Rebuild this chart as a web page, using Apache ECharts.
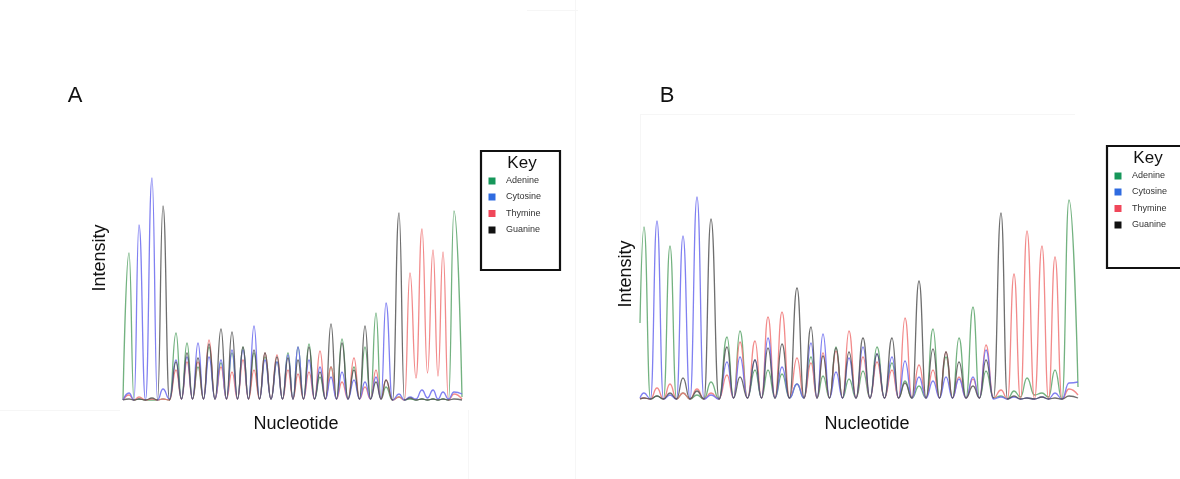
<!DOCTYPE html>
<html><head><meta charset="utf-8">
<script src="https://cdn.jsdelivr.net/npm/echarts@6/dist/echarts.min.js"></script>
<style>html,body{margin:0;padding:0;background:#fff}#c{width:1180px;height:479px}</style>
</head><body><div id="c"></div>
<script>
// ---------- labels ----------
const panelTitles = ['A', 'B'];
const xAxisLabel = 'Nucleotide';
const yAxisLabel = 'Intensity';
const keyTitle = 'Key';
const bases = ['Adenine', 'Cytosine', 'Thymine', 'Guanine'];

// ---------- panel A (scan position of each called peak, intensity) ----------
const posA = [6,16,29,40,53,64,75,86,98,109,120,131,142,154,165,175,186,197,208,219,231,242,253,263,276,287,299,310,320,331];
const adenineA  = [149,3,2,3,69,59,35,55,39,49,55,49,45,40,49,55,58,25,35,63,35,55,89,15,5,3,3,3,3,191];
const cytosineA = [9,177,224,13,42,45,59,45,42,52,52,76,42,40,47,55,42,35,25,30,22,20,25,99,8,5,12,12,10,10];
const thymineA  = [7,5,3,3,32,40,40,62,35,30,42,32,49,47,32,28,30,51,35,20,44,15,32,22,5,129,173,152,150,8];
const guanineA  = [3,3,4,196,40,49,44,58,73,70,55,52,49,45,44,42,55,30,78,59,32,76,20,22,189,4,3,3,3,3];
const adenineTroughA  = [2,2,2,2,3,3,3,3,3,3,3,3,3,3,3,3,3,3,3,3,3,3,3,2,2,2,2,2,2];
const cytosineTroughA = [2,2,2,3,3,3,3,3,3,3,3,3,3,3,3,3,3,3,3,3,3,3,3,2,2,3,4,3,3];
const thymineTroughA  = [2,2,2,2,3,3,3,3,3,3,3,3,3,3,3,3,3,3,3,3,3,3,3,2,2,24,29,26,2];
const guanineTroughA  = [2,2,2,2,3,3,3,3,3,3,3,3,3,3,3,3,3,3,3,3,3,3,3,2,2,2,2,2,2];
const startA = [2, 2, 2, 2];   // A, C, T, G at left edge
const endA   = [5, 8, 3, 2];   // A, C, T, G at right edge

// ---------- panel B ----------
const posB = [4,17,30,43,57,71,87,100,115,128,142,157,171,183,196,209,223,237,252,265,279,293,306,319,333,346,361,374,387,402,415,429];
const adenineB  = [174,5,155,8,6,19,64,70,31,31,27,17,44,25,54,22,30,54,38,20,15,72,44,63,94,30,5,10,23,8,31,201];
const cytosineB = [8,180,6,165,204,6,39,44,41,63,34,17,58,67,29,43,54,47,44,40,24,20,24,22,24,51,4,4,3,4,8,18];
const thymineB  = [3,13,17,8,12,8,26,59,60,84,89,43,38,48,50,70,44,39,31,83,36,31,49,24,22,56,11,127,170,155,144,12];
const guanineB  = [3,5,8,23,10,182,54,24,41,53,57,113,74,45,53,49,63,47,63,18,120,52,49,39,15,41,188,5,3,4,3,5];
const adenineTroughB  = [2,2,2,2,2,2,3,3,3,3,3,3,3,3,3,3,3,3,3,3,3,3,3,3,3,3,2,4,6,4,2];
const cytosineTroughB = [2,2,2,2,2,2,3,3,3,3,3,3,3,3,3,3,3,3,3,3,3,3,3,3,3,2,2,2,2,2,2];
const thymineTroughB  = [2,2,2,2,2,2,3,3,3,3,3,3,3,3,3,3,3,3,3,3,3,3,3,3,3,3,2,2,2,2,2];
const guanineTroughB  = [2,2,2,2,2,2,3,3,3,3,3,3,3,3,3,3,3,3,3,3,3,3,3,3,3,3,2,2,2,2,2];
const startB = [78, 3, 2, 2];
const endB   = [14, 19, 6, 3];

// ---------- styling ----------
const traceColors = ['#5aa56a', '#6a6aee', '#f07676', '#555555'];
const keyColors   = ['#16975a', '#2f6be0', '#f0475a', '#111111'];
const FONT = '"Liberation Sans", Arial, sans-serif';
const X_MAX_A = 339, X_MAX_B = 438, Y_MAX = 230;

function trace(pos, peaks, troughs, start, end, xMax) {
  const d = [[0, start]];
  for (let i = 0; i < pos.length; i++) {
    d.push([pos[i], peaks[i]]);
    if (i < pos.length - 1) d.push([(pos[i] + pos[i + 1]) / 2, troughs[i]]);
  }
  d.push([xMax, end]);
  return d;
}

const panels = [
  {pos: posA, peaks: [adenineA, cytosineA, thymineA, guanineA],
   troughs: [adenineTroughA, cytosineTroughA, thymineTroughA, guanineTroughA], start: startA, end: endA, xMax: X_MAX_A},
  {pos: posB, peaks: [adenineB, cytosineB, thymineB, guanineB],
   troughs: [adenineTroughB, cytosineTroughB, thymineTroughB, guanineTroughB], start: startB, end: endB, xMax: X_MAX_B}
];

const series = [];
panels.forEach((p, pi) => {
  [0, 2, 1, 3].forEach(bi => {
    series.push({
      type: 'line', name: bases[bi] + ' ' + panelTitles[pi],
      xAxisIndex: pi, yAxisIndex: pi,
      data: trace(p.pos, p.peaks[bi], p.troughs[bi], p.start[bi], p.end[bi], p.xMax),
      smooth: 0.5, smoothMonotone: 'x', symbol: 'none', clip: true,
      lineStyle: {color: traceColors[bi], width: 1.3, opacity: 0.85},
      silent: true
    });
  });
});

function keyBox(x, y, w, h) {
  const els = [{
    type: 'rect', shape: {x: x, y: y, width: w, height: h},
    style: {fill: '#fff', stroke: '#111', lineWidth: 2.2}
  }, {
    type: 'text', style: {x: x + 41, y: y + 12, text: keyTitle, font: '17px ' + FONT, fill: '#111', align: 'center', verticalAlign: 'middle'}
  }];
  const rows = [30, 46, 62.5, 79];
  bases.forEach((b, i) => {
    els.push({type: 'rect', shape: {x: x + 7.5, y: y + rows[i] - 3.5, width: 7, height: 7}, style: {fill: keyColors[i]}});
    els.push({type: 'text', style: {x: x + 25, y: y + rows[i], text: b, font: '9px ' + FONT, fill: '#333', align: 'left', verticalAlign: 'middle'}});
  });
  return els;
}

function label(x, y, text, size, rot) {
  return {type: 'text', x: x, y: y, rotation: rot || 0,
    style: {x: 0, y: 0, text: text, font: size + 'px ' + FONT, fill: '#111', align: 'center', verticalAlign: 'middle'}};
}

const faint = '#f6f6f6';
const graphics = [
  {type: 'line', shape: {x1: 575.5, y1: 0, x2: 575.5, y2: 479}, style: {stroke: faint, lineWidth: 1}},
  {type: 'line', shape: {x1: 527, y1: 10.5, x2: 578, y2: 10.5}, style: {stroke: faint, lineWidth: 1}},
  {type: 'line', shape: {x1: 0, y1: 410.5, x2: 120, y2: 410.5}, style: {stroke: faint, lineWidth: 1}},
  {type: 'line', shape: {x1: 468.5, y1: 410, x2: 468.5, y2: 479}, style: {stroke: faint, lineWidth: 1}},
  {type: 'line', shape: {x1: 640, y1: 114.5, x2: 1075, y2: 114.5}, style: {stroke: faint, lineWidth: 1}},
  {type: 'line', shape: {x1: 640.5, y1: 114, x2: 640.5, y2: 300}, style: {stroke: faint, lineWidth: 1}},
  label(75, 96, panelTitles[0], 22),
  label(667, 96, panelTitles[1], 22),
  label(100, 258, yAxisLabel, 18, Math.PI / 2),
  label(626, 274, yAxisLabel, 18, Math.PI / 2),
  label(296, 424, xAxisLabel, 18),
  label(867, 424, xAxisLabel, 18)
].concat(keyBox(481, 151, 79, 119)).concat(keyBox(1107, 146, 85, 122));

const chart = echarts.init(document.getElementById('c'), null, {renderer: 'canvas'});
chart.setOption({
  animation: false,
  backgroundColor: '#ffffff',
  grid: [
    {left: 123, top: 172, width: 339, height: 230},
    {left: 640, top: 171, width: 438, height: 230}
  ],
  xAxis: [
    {type: 'value', gridIndex: 0, min: 0, max: X_MAX_A, show: false},
    {type: 'value', gridIndex: 1, min: 0, max: X_MAX_B, show: false}
  ],
  yAxis: [
    {type: 'value', gridIndex: 0, min: 0, max: Y_MAX, show: false},
    {type: 'value', gridIndex: 1, min: 0, max: Y_MAX, show: false}
  ],
  series: series,
  graphic: graphics
});
</script>
</body></html>
